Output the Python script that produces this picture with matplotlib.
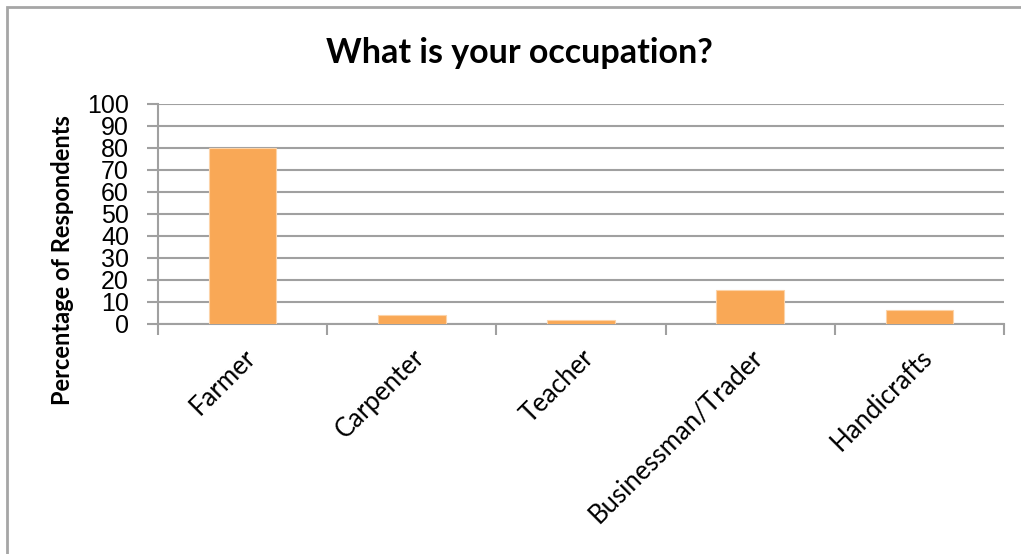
import matplotlib.pyplot as plt
from matplotlib.patches import Rectangle

occupations = ['Farmer', 'Carpenter', 'Teacher', 'Businessman/Trader', 'Handicrafts']
percentages = [80, 4.2, 2, 15.3, 6.5]
yticks = list(range(0, 101, 10))

plt.rcParams['font.family'] = ['Lato', 'DejaVu Sans']

fig = plt.figure(figsize=(10.21, 5.54), dpi=100)
ax = fig.add_axes([0.1548, 0.4152, 0.8286, 0.3971])

# outer chart frame (right and bottom are cut off in the original)
fig.patches.append(Rectangle((7 / 1021, -0.05), 1.1, 1 - 7 / 554 + 0.05,
                             transform=fig.transFigure, fill=False,
                             edgecolor='#a6a6a6', linewidth=2))

x = list(range(len(occupations)))
ax.bar(x, percentages, width=0.4, color='#f9a856', edgecolor='#fcd3a8', linewidth=0.8, zorder=3)

ax.set_xlim(-0.5, len(occupations) - 0.5)
ax.set_ylim(0, 100)
ax.set_yticks(yticks)
ax.set_yticklabels([str(v) for v in yticks], fontsize=18, family=['Liberation Sans'])
ax.yaxis.grid(True, color='#a0a0a0', linewidth=1.5, zorder=0)
ax.tick_params(axis='y', length=8, width=1.5, color='#a0a0a0', pad=13)

ax.set_xticks(x)
ax.set_xticklabels(occupations, rotation=45, ha='right', rotation_mode='anchor', fontsize=18.5)
ax.tick_params(axis='x', length=0, pad=15)
ax.set_xticks([i - 0.5 for i in range(len(occupations) + 1)], minor=True)
ax.tick_params(axis='x', which='minor', length=8, width=1.5, color='#a0a0a0')

for side in ['top', 'right']:
    ax.spines[side].set_visible(False)
for side in ['left', 'bottom']:
    ax.spines[side].set_color('#a0a0a0')
    ax.spines[side].set_linewidth(1.5)

fig.text(62 / 1021, 0.531, 'Percentage of Respondents', rotation=90, ha='center', va='center',
         fontsize=17, fontweight='bold')
fig.text(0.509, 0.905, 'What is your occupation?', ha='center', va='center',
         fontsize=24.5, fontweight='bold')

fig.savefig('out.png', dpi=100)
